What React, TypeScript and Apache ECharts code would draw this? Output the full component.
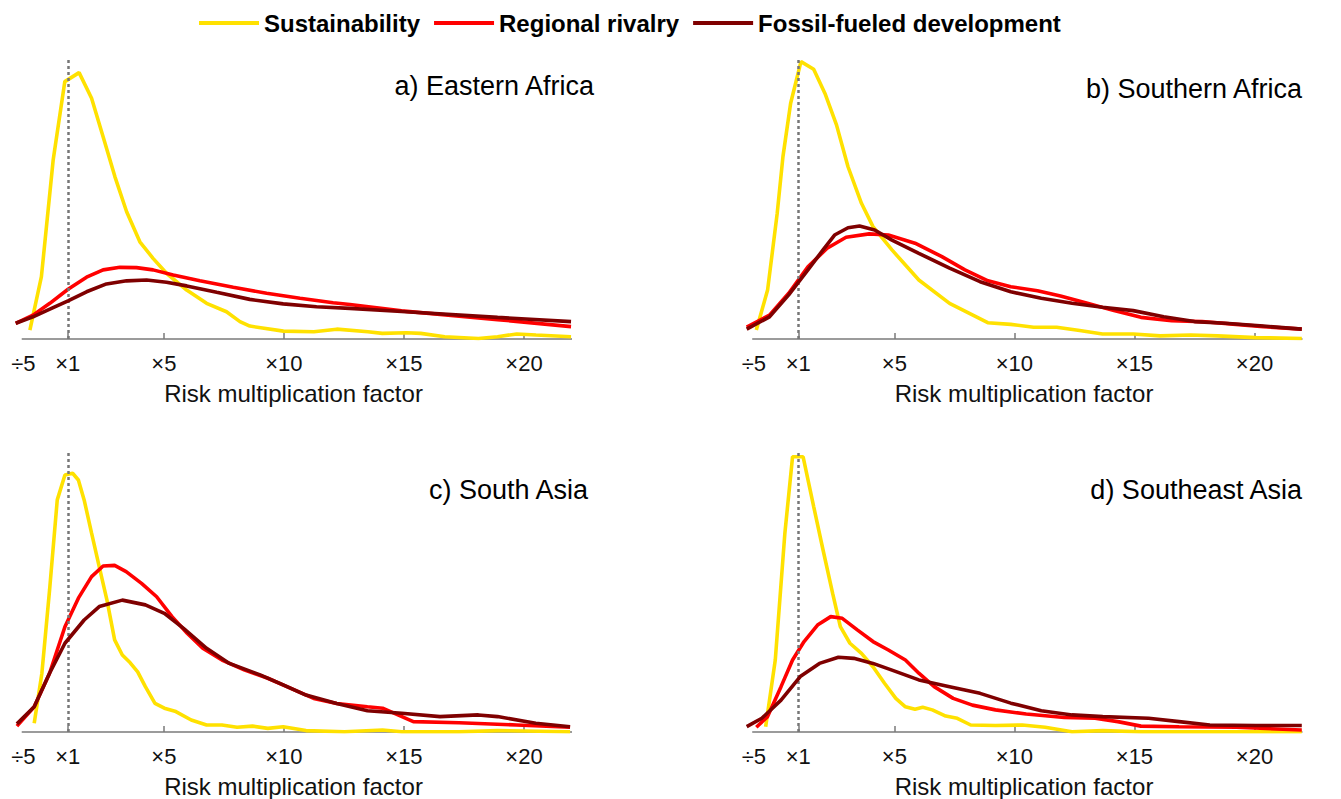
import React, { useEffect, useRef } from "react";
import * as echarts from "echarts";

const seriesNames = ["Sustainability", "Regional rivalry", "Fossil-fueled development"];
const seriesColors = ["#FFE100", "#FF0000", "#7F0000"];
const panelTitles = ["a) Eastern Africa", "b) Southern Africa", "c) South Asia", "d) Southeast Asia"];
const tickValues = [-0.85, 1, 5, 10, 15, 20];
const tickLabels = ["÷5", "×1", "×5", "×10", "×15", "×20"];
const tickMarks = [1, 5, 10, 15, 20];
const xName = "Risk multiplication factor";

// a) Eastern Africa
const eastAfricaSust = [[-0.58,3.2],[-0.1,22.2],[0.39,63.7],[0.875,91.6],[1.47,94.8],[1.99,85.7],[2.47,72.0],[2.96,57.8],[3.45,45.3],[4.0,34.6],[4.55,28.7],[5.11,23.4],[5.95,17.4],[6.78,12.7],[7.61,9.7],[8.17,6.2],[8.58,4.6],[9.98,2.8],[11.25,2.6],[12.2,3.5],[13.5,2.6],[14.1,2.0],[15.1,2.2],[15.7,2.0],[16.7,0.8],[18.1,0.2],[18.9,0.8],[19.7,1.8],[20.5,1.4],[21.96,0.8]];
const eastAfricaRival = [[-1.17,5.6],[-0.45,8.5],[0.25,12.7],[1.01,17.7],[1.78,22.0],[2.47,24.6],[3.17,25.5],[3.86,25.4],[4.55,24.6],[5.39,22.8],[6.5,20.7],[7.89,18.4],[9.28,16.3],[10.67,14.5],[12.05,12.9],[12.75,12.3],[14.9,10.0],[18.9,6.9],[21.96,4.4]];
const eastAfricaFossil = [[-1.17,5.6],[-0.45,7.9],[0.25,10.6],[1.01,13.6],[1.78,16.8],[2.61,19.6],[3.45,20.7],[4.28,21.0],[5.11,20.2],[5.95,18.9],[7.2,16.6],[8.58,14.1],[9.97,12.5],[11.36,11.5],[12.75,10.9],[14.9,9.8],[18.9,7.7],[21.96,6.2]];

// b) Southern Africa
const southAfricaSust = [[-0.75,3.2],[-0.28,17.4],[0.12,44.7],[0.36,64.9],[0.68,83.9],[1.11,98.7],[1.64,96.0],[2.11,87.4],[2.59,76.2],[3.07,61.3],[3.63,48.3],[4.11,40.0],[4.9,31.7],[6.02,21.0],[7.3,12.7],[8.89,5.8],[9.85,5.2],[10.8,4.2],[11.76,4.2],[12.72,3.0],[13.67,1.8],[14.95,1.8],[16.07,1.1],[17.34,1.4],[18.46,1.1],[20.05,0.5],[21.97,0.2]];
const southAfricaRival = [[-1.15,4.2],[-0.2,8.5],[0.6,16.3],[1.4,25.7],[2.2,32.3],[2.99,36.2],[3.95,37.4],[4.75,37.0],[5.86,34.1],[6.98,29.3],[7.94,24.6],[8.9,20.7],[9.85,18.6],[10.96,17.2],[11.92,15.3],[13.04,12.7],[14.15,10.1],[15.27,7.7],[16.55,6.5],[17.82,6.2],[19.1,5.3],[20.37,4.4],[21.97,3.5]];
const southAfricaFossil = [[-1.15,3.5],[-0.2,7.9],[0.6,15.7],[1.4,24.6],[2.03,31.7],[2.51,37.0],[3.07,39.6],[3.55,40.2],[4.18,38.8],[4.9,35.2],[6.02,30.5],[7.3,25.2],[8.57,20.4],[9.85,16.8],[11.12,14.5],[12.4,12.7],[13.67,11.3],[14.95,10.1],[16.22,7.9],[17.5,6.2],[18.78,5.6],[20.37,4.6],[21.97,3.5]];

// c) South Asia
const southAsiaSust = [[-0.4,3.1],[-0.08,21.0],[0.24,50.7],[0.56,82.9],[0.88,91.8],[1.2,92.4],[1.44,90.0],[1.68,82.9],[1.99,71.0],[2.31,59.0],[2.63,47.1],[2.95,32.9],[3.27,27.5],[3.59,24.8],[3.91,21.5],[4.23,16.2],[4.63,10.2],[5.02,8.5],[5.5,7.3],[6.14,4.3],[6.78,2.5],[7.42,2.5],[8.05,1.7],[8.69,2.1],[9.33,1.3],[9.97,1.9],[10.92,0.5],[12.52,0.1],[14.11,0.7],[14.91,0.1],[17.3,0.1],[18.9,0.5],[21.92,0.1]];
const southAsiaRival = [[-1.12,2.1],[-0.4,9.0],[0.24,21.0],[0.88,37.6],[1.44,47.8],[1.99,55.5],[2.47,59.3],[2.95,59.5],[3.43,57.3],[4.07,53.1],[4.7,48.3],[5.34,41.2],[5.98,35.2],[6.62,29.9],[7.42,25.7],[8.37,22.1],[9.33,19.2],[10.29,15.6],[11.24,12.0],[12.2,10.2],[13.48,9.0],[14.11,8.5],[14.75,6.1],[15.39,3.7],[17.3,3.3],[19.69,2.5],[21.92,1.7]];
const southAsiaFossil = [[-1.12,2.9],[-0.4,9.0],[0.24,21.0],[0.88,31.7],[1.68,40.0],[2.31,44.8],[3.27,47.1],[4.23,45.4],[5.02,42.4],[5.82,37.0],[6.78,29.9],[7.73,24.5],[9.01,20.4],[9.97,16.8],[10.92,13.2],[12.2,10.2],[13.48,7.6],[14.91,6.7],[16.5,5.5],[18.1,6.1],[18.9,5.5],[20.49,3.1],[21.92,1.9]];

// d) Southeast Asia
const southeastAsiaSust = [[-0.36,1.9],[0.04,25.7],[0.44,71.0],[0.76,98.3],[1.2,98.3],[1.64,80.5],[2.03,65.0],[2.43,49.5],[2.75,37.6],[3.15,31.7],[3.63,28.1],[4.11,23.3],[4.59,17.4],[5.06,12.0],[5.46,9.0],[5.86,8.1],[6.18,8.8],[6.58,7.9],[7.14,5.7],[7.62,4.9],[8.18,2.5],[9.21,2.3],[10.33,2.5],[11.28,1.7],[12.4,0.1],[13.68,0.5],[15.27,0.1],[21.97,0.1]];
const southeastAsiaRival = [[-0.75,1.7],[-0.28,5.5],[0.28,16.2],[0.76,25.7],[1.24,32.3],[1.8,38.2],[2.35,41.2],[2.83,40.6],[3.47,36.4],[4.11,32.3],[4.75,29.3],[5.46,25.7],[6.02,21.0],[6.66,16.2],[7.45,12.0],[8.25,9.6],[9.21,7.9],[10.49,6.4],[12.08,5.2],[13.36,4.9],[14.31,3.7],[15.27,2.1],[16.86,1.9],[19.25,1.7],[21.97,0.7]];
const southeastAsiaFossil = [[-1.15,1.9],[-0.52,4.9],[0.28,11.4],[1.08,19.8],[1.88,24.5],[2.67,26.7],[3.31,26.3],[4.11,24.5],[4.9,22.1],[6.02,18.6],[7.3,16.2],[8.57,13.8],[9.85,10.3],[11.12,7.6],[12.4,6.1],[13.68,5.5],[15.59,4.9],[16.86,3.7],[18.14,2.5],[20.05,2.3],[21.97,2.3]];

const panelData = [
  [eastAfricaSust, eastAfricaRival, eastAfricaFossil],
  [southAfricaSust, southAfricaRival, southAfricaFossil],
  [southAsiaSust, southAsiaRival, southAsiaFossil],
  [southeastAsiaSust, southeastAsiaRival, southeastAsiaFossil],
];

const FONT = "'Liberation Sans', Arial, Helvetica, sans-serif";
const X_MIN = -1.2;
const X_MAX = 22;
const AXIS_START = -0.92;

const grids = [
  { left: 15, top: 58, width: 557, height: 281 },
  { left: 745.5, top: 58, width: 557, height: 281 },
  { left: 15, top: 452, width: 557, height: 280 },
  { left: 745.5, top: 452, width: 557, height: 280 },
];
const titlePos = [
  { x: 594, y: 86 },
  { x: 1302, y: 89 },
  { x: 588, y: 490 },
  { x: 1302, y: 490 },
];

export default function App() {
  const ref = useRef<HTMLDivElement>(null);
  useEffect(() => {
    if (!ref.current) return;
    const chart = echarts.init(ref.current, null, { renderer: "svg" });
    const xAxis: any[] = [];
    const yAxis: any[] = [];
    const series: any[] = [];
    grids.forEach((_, p) => {
      xAxis.push({
        type: "value",
        gridIndex: p,
        min: X_MIN,
        max: X_MAX,
        axisLine: { show: false },
        splitLine: { show: false },
        axisTick: {
          show: true,
          inside: true,
          length: 6,
          customValues: tickMarks,
          lineStyle: { color: "#7a7a7a", width: 1.5 },
        },
        axisLabel: {
          show: true,
          customValues: tickValues,
          margin: 13,
          fontSize: 22,
          color: "#111",
          fontFamily: FONT,
          formatter: (v: number) => {
            const i = tickValues.findIndex((t) => Math.abs(t - v) < 1e-6);
            return i >= 0 ? tickLabels[i] : "";
          },
        },
        name: xName,
        nameLocation: "middle",
        nameGap: 42,
        nameTextStyle: { fontSize: 24, color: "#111", fontFamily: FONT },
      });
      yAxis.push({
        type: "value",
        gridIndex: p,
        min: 0,
        max: 100,
        show: false,
      });
      panelData[p].forEach((pts, s) => {
        const ser: any = {
          type: "line",
          name: seriesNames[s],
          xAxisIndex: p,
          yAxisIndex: p,
          data: pts,
          showSymbol: false,
          symbol: "none",
          smooth: false,
          color: seriesColors[s],
          lineStyle: { width: 3.6, color: seriesColors[s] },
          z: 3 + s,
        };
        if (s === 0) {
          ser.markLine = {
            silent: true,
            symbol: ["none", "none"],
            label: { show: false },
            lineStyle: { color: "#7a7a7a", width: 1.5, type: "solid" },
            data: [[{ coord: [AXIS_START, 0] }, { coord: [X_MAX, 0] }]],
            z: 1,
          };
        }
        if (s === 2) {
          ser.markLine = {
            silent: true,
            symbol: ["none", "none"],
            label: { show: false },
            lineStyle: { color: "#777777", width: 2.5, type: [3, 3] },
            data: [{ xAxis: 1 }],
          };
        }
        series.push(ser);
      });
    });

    chart.setOption({
      animation: false,
      backgroundColor: "#ffffff",
      legend: {
        data: seriesNames,
        left: 194,
        top: 6,
        icon: "rect",
        itemWidth: 60,
        itemHeight: 4,
        itemGap: 14,
        textStyle: { fontSize: 24, fontWeight: "bold", color: "#000", fontFamily: FONT },
      },
      grid: grids.map((g) => ({ ...g, containLabel: false })),
      xAxis,
      yAxis,
      series,
      graphic: panelTitles.map((t, i) => ({
        type: "text",
        x: titlePos[i].x,
        y: titlePos[i].y,
        style: {
          text: t,
          fontSize: 27,
          fontFamily: FONT,
          fill: "#000",
          align: "right",
          verticalAlign: "middle",
        },
      })),
    });
    return () => chart.dispose();
  }, []);
  return (
    <div
      ref={ref}
      style={{ position: "fixed", left: 0, top: 0, width: 1341, height: 799 }}
    />
  );
}
